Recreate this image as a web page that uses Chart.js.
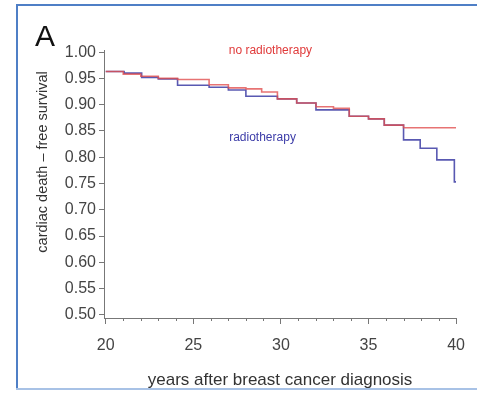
<!DOCTYPE html>
<html>
<head>
<meta charset="utf-8">
<script src="https://cdn.jsdelivr.net/npm/chart.js@4/dist/chart.umd.min.js"></script>
<style>
html,body{margin:0;padding:0;background:#fff;overflow:hidden;}
#wrap{position:relative;width:477px;height:393px;overflow:hidden;}
.fr{position:absolute;pointer-events:none;}
#ft{left:16px;top:4px;width:461px;height:2px;background:#4f7fc6;}
#fl{left:16px;top:4px;width:2px;height:385px;background:#4f7fc6;}
#fb{left:16px;top:388px;width:461px;height:2px;background:#a8c2e6;}
canvas{position:absolute;left:0;top:0;}
</style>
</head>
<body>
<div id="wrap">
<canvas id="c" width="477" height="393"></canvas>
<div class="fr" id="ft"></div><div class="fr" id="fl"></div><div class="fr" id="fb"></div>
</div>
<script>
// Kaplan-Meier step data (time in years, survival probability starting at that time)
const noRtTimes  = [20, 21.0, 22.0, 23.0, 24.1, 25.9, 27.0, 28.0, 28.9, 29.8, 30.9, 32.0, 33.0, 33.9, 35.0, 35.9, 37.0, 40];
const noRtValues = [0.963, 0.958, 0.954, 0.950, 0.948, 0.938, 0.932, 0.930, 0.924, 0.911, 0.903, 0.896, 0.893, 0.878, 0.873, 0.861, 0.856, 0.856];
const rtTimes    = [20, 21.05, 22.05, 23.0, 24.1, 25.9, 27.0, 28.0, 29.8, 30.9, 32.0, 33.9, 35.0, 35.9, 37.0, 37.95, 38.9, 39.9, 40];
const rtValues   = [0.963, 0.960, 0.952, 0.949, 0.937, 0.933, 0.928, 0.916, 0.911, 0.903, 0.890, 0.878, 0.873, 0.861, 0.833, 0.817, 0.795, 0.753, 0.753];
const xTickValues = [20, 25, 30, 35, 40];
const yTickValues = [0.50, 0.55, 0.60, 0.65, 0.70, 0.75, 0.80, 0.85, 0.90, 0.95, 1.00];
const seriesLabels = ['no radiotherapy', 'radiotherapy'];
const xTitle = 'years after breast cancer diagnosis';
const yTitle = 'cardiac death \u2013 free survival';
const panelLabel = 'A';

const FONT = '"Liberation Sans", Arial, sans-serif';
const toPts = (t, v) => t.map((x, i) => ({x: x, y: v[i]}));

const extras = {
  id: 'extras',
  afterDraw(chart) {
    const ctx = chart.ctx;
    const xs = chart.scales.x, ys = chart.scales.y;
    ctx.save();
    // minor x ticks
    ctx.strokeStyle = '#777';
    ctx.lineWidth = 1;
    for (let v = 20; v <= 40; v++) {
      if (v % 5 === 0) continue;
      const px = Math.round(xs.getPixelForValue(v)) + 0.5;
      ctx.beginPath();
      ctx.moveTo(px, xs.top);
      ctx.lineTo(px, xs.top + 3);
      ctx.stroke();
    }
    // panel letter
    ctx.fillStyle = '#111';
    ctx.font = '30px ' + FONT;
    ctx.textBaseline = 'alphabetic';
    ctx.textAlign = 'left';
    ctx.fillText(panelLabel, 35, 46);
    // y axis title
    ctx.save();
    ctx.translate(43, 162);
    ctx.rotate(-Math.PI / 2);
    ctx.font = '14.5px ' + FONT;
    ctx.fillStyle = '#333';
    ctx.textAlign = 'center';
    ctx.textBaseline = 'middle';
    ctx.fillText(yTitle, 0, 0);
    ctx.restore();
    // series annotations
    ctx.font = '12px ' + FONT;
    ctx.textAlign = 'center';
    ctx.textBaseline = 'middle';
    ctx.fillStyle = '#e03a3a';
    ctx.fillText(seriesLabels[0], xs.getPixelForValue(29.4), ys.getPixelForValue(1.003));
    ctx.fillStyle = '#3c3ca8';
    ctx.fillText(seriesLabels[1], xs.getPixelForValue(28.95), ys.getPixelForValue(0.838));
    ctx.restore();
  }
};

new Chart(document.getElementById('c'), {
  type: 'line',
  data: {
    datasets: [
      {label: seriesLabels[0], data: toPts(noRtTimes, noRtValues), stepped: 'before',
       borderColor: 'rgba(225,80,80,0.8)', borderWidth: 1.6, pointRadius: 0, fill: false},
      {label: seriesLabels[1], data: toPts(rtTimes, rtValues), stepped: 'before',
       borderColor: 'rgba(60,60,165,0.85)', borderWidth: 1.6, pointRadius: 0, fill: false}
    ]
  },
  options: {
    responsive: false,
    animation: false,
    layout: {padding: {left: 35, top: 50, right: 10, bottom: 2}},
    plugins: {legend: {display: false}, tooltip: {enabled: false}},
    scales: {
      x: {
        type: 'linear', min: 19.9, max: 40,
        afterBuildTicks: s => { s.ticks = xTickValues.map(v => ({value: v})); },
        afterFit: s => { s.height = 73; },
        grid: {drawOnChartArea: false, tickLength: 6, color: '#777', tickColor: '#777'},
        border: {display: true, color: '#777', width: 1},
        ticks: {padding: 12, color: '#444', font: {size: 16, family: FONT}, maxRotation: 0,
                callback: v => String(v)},
        title: {display: true, text: xTitle, color: '#333', padding: {top: 0, bottom: 0},
                font: {size: 17, family: FONT}}
      },
      y: {
        type: 'linear', min: 0.494, max: 1.004,
        afterBuildTicks: s => { s.ticks = yTickValues.map(v => ({value: v})); },
        afterFit: s => { s.width = 69; },
        grid: {drawOnChartArea: false, tickLength: 5, color: '#777', tickColor: '#777'},
        border: {display: true, color: '#777', width: 1},
        ticks: {padding: 3, color: '#444', font: {size: 16, family: FONT},
                callback: v => Number(v).toFixed(2)},
        title: {display: false, text: yTitle}
      }
    }
  },
  plugins: [extras]
});
</script>
</body>
</html>
